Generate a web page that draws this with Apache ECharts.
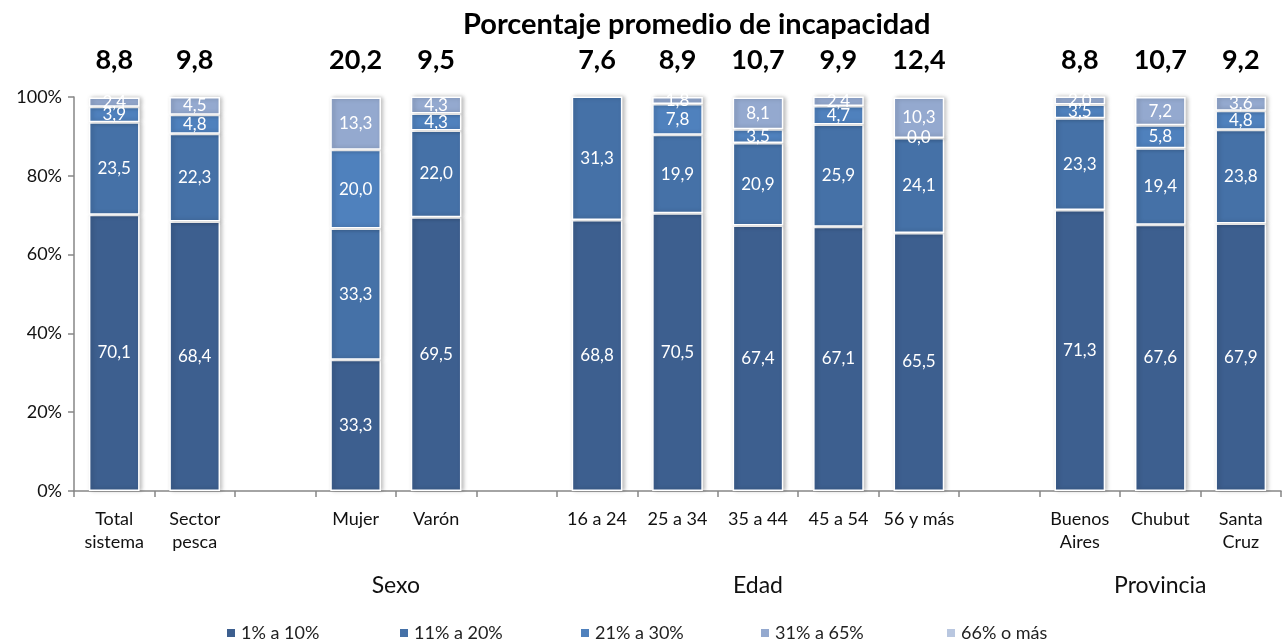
<!DOCTYPE html>
<html>
<head>
<meta charset="utf-8">
<script src="https://cdn.jsdelivr.net/npm/echarts@6/dist/echarts.min.js"></script>
<style>
  html, body { margin: 0; padding: 0; background: #fff; }
  #chart { width: 1286px; height: 641px; }
</style>
</head>
<body>
<div id="chart"></div>
<script>
// categories (blank slots are the gaps between groups)
const categories = ['Total\nsistema', 'Sector\npesca', ' ', 'Mujer', 'Varón', '  ',
  '16 a 24', '25 a 34', '35 a 44', '45 a 54', '56 y más', '   ',
  'Buenos\nAires', 'Chubut', 'Santa\nCruz']

const promedio = [8.8, 9.8, null, 20.2, 9.5, null, 7.6, 8.9, 10.7, 9.9, 12.4, null, 8.8, 10.7, 9.2]

const s1a10 = [70.1, 68.4, null, 33.3, 69.5, null, 68.8, 70.5, 67.4, 67.1, 65.5, null, 71.3, 67.6, 67.9]
const s11a20 = [23.5, 22.3, null, 33.3, 22.0, null, 31.3, 19.9, 20.9, 25.9, 24.1, null, 23.3, 19.4, 23.8]
const s21a30 = [3.9, 4.8, null, 20.0, 4.3, null, null, 7.8, 3.5, 4.7, 0.0, null, 3.5, 5.8, 4.8]
const s31a65 = [2.4, 4.5, null, 13.3, 4.3, null, null, 1.8, 8.1, 2.4, 10.3, null, 2.0, 7.2, 3.6]
const s66 = [null, null, null, null, null, null, null, null, null, null, null, null, null, null, null]

const seriesNames = ['1% a 10%', '11% a 20%', '21% a 30%', '31% a 65%', '66% o más']
const colors = ['#3d5f8f', '#4571a7', '#4f81bd', '#94a9cf', '#b9c7e0']
const legendLeft = [220, 393, 574, 754, 940]

// group labels placed on a 0..15 value scale that matches the category bands
const groups = { 4: 'Sexo', 8.5: 'Edad', 13.5: 'Provincia' }

const font = 'Lato, "Open Sans", sans-serif'
const fmt = v => v.toFixed(1).replace('.', ',')

const chart = echarts.init(document.getElementById('chart'))

const makeSeries = (name, data, i) => ({
  name: name,
  type: 'bar',
  stack: 'total',
  data: data,
  barWidth: '63%',
  itemStyle: {
    color: colors[i],
    borderColor: '#fff',
    borderWidth: 1.5,
    shadowBlur: 4,
    shadowOffsetX: 2,
    shadowColor: 'rgba(0,0,0,0.25)',
  },
  label: {
    show: true,
    position: 'inside',
    color: '#fff',
    fontFamily: font,
    fontSize: 17,
    formatter: p => (p.value == null ? '' : fmt(p.value)),
  },
})

// one legend per item so the spacing can follow the original
const legends = seriesNames.map((name, i) => ({
  data: [name],
  left: legendLeft[i],
  top: 619,
  itemWidth: 10,
  itemHeight: 10,
  itemGap: 5,
  icon: 'rect',
  textStyle: { fontFamily: font, fontSize: 18, color: '#222' },
}))

chart.setOption({
  animation: false,
  title: {
    text: 'Porcentaje promedio de incapacidad',
    left: 458,
    top: 5,
    textStyle: { fontFamily: font, fontSize: 29, fontWeight: 'bold', color: '#000' },
  },
  legend: legends,
  grid: { left: 74, right: 5, top: 97, bottom: 150 },
  xAxis: [
    {
      type: 'category',
      data: categories,
      axisLine: { lineStyle: { color: '#868686', width: 1.5 } },
      axisTick: { show: true, length: 6, lineStyle: { color: '#868686', width: 1.5 } },
      axisLabel: {
        interval: 0,
        margin: 17,
        fontFamily: font,
        fontSize: 18,
        lineHeight: 23,
        color: '#111',
      },
    },
    {
      type: 'category',
      position: 'top',
      data: promedio.map(v => (v == null ? '' : fmt(v))),
      axisLine: { show: false },
      axisTick: { show: false },
      axisLabel: {
        interval: 0,
        margin: 23,
        fontFamily: font,
        fontSize: 27,
        fontWeight: 'bold',
        color: '#000',
      },
    },
    {
      type: 'value',
      position: 'bottom',
      min: 0,
      max: 15,
      interval: 0.5,
      axisLine: { show: false },
      axisTick: { show: false },
      splitLine: { show: false },
      axisLabel: {
        margin: 83,
        fontFamily: font,
        fontSize: 23,
        color: '#111',
        formatter: v => groups[v] || '',
      },
    },
  ],
  yAxis: {
    type: 'value',
    min: 0,
    max: 100,
    interval: 20,
    axisLine: { show: true, lineStyle: { color: '#868686', width: 1.5 } },
    axisTick: { show: true, length: 6, lineStyle: { color: '#868686', width: 1.5 } },
    splitLine: { show: false },
    axisLabel: {
      formatter: '{value}%',
      margin: 12,
      fontFamily: font,
      fontSize: 18,
      color: '#111',
    },
  },
  series: [
    makeSeries(seriesNames[0], s1a10, 0),
    makeSeries(seriesNames[1], s11a20, 1),
    makeSeries(seriesNames[2], s21a30, 2),
    makeSeries(seriesNames[3], s31a65, 3),
    makeSeries(seriesNames[4], s66, 4),
  ],
})
</script>
</body>
</html>
